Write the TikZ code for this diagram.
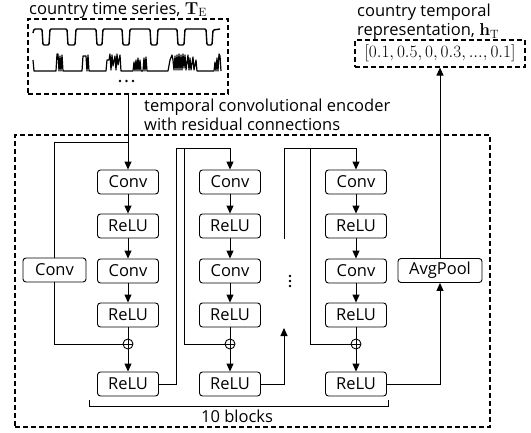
\documentclass[tikz,border=0pt]{standalone}
\usepackage[no-math]{fontspec}
\setmainfont{Open Sans}
\usetikzlibrary{arrows.meta}
\begin{document}
\begin{tikzpicture}[x=1pt,y=-1pt,
  every node/.style={font=\fontsize{16.5}{19}\selectfont},
  blk/.style={draw, rounded corners=3pt, minimum width=61pt, minimum height=24pt, inner sep=0pt, line width=0.9pt},
  conn/.style={line width=0.9pt},
  arr/.style={conn, -{Triangle[length=8pt,width=7pt]}},
  dbox/.style={draw, dash pattern=on 5pt off 3pt, line width=1.1pt, inner sep=0pt},
  wave/.style={line width=1.4pt, line join=round},
  sum/.style={circle, draw, fill=white, minimum size=10pt, inner sep=0pt, line width=0.9pt,
    path picture={\draw[line width=0.9pt] (path picture bounding box.north) -- (path picture bounding box.south) (path picture bounding box.west) -- (path picture bounding box.east);}},
  lbl/.style={inner sep=0pt, align=left}
]
\useasboundingbox (0,0) rectangle (531,432);

% labels
\node[lbl, anchor=base west] (tsl) at (29,14) {country time series, $\mathbf{T}_{\mathrm{E}}$};
\node[lbl, anchor=north west] (encl) at (144,98.5) {temporal convolutional encoder\\with residual connections};
\node[lbl, anchor=north west] (outl) at (357,4) {country temporal\\representation, $\mathbf{h}_{\mathrm{T}}$};

% time series box
\node[dbox, minimum width=200pt, minimum height=75pt] (ts) at (128,56.5) {};
\draw[wave, rounded corners=1.2pt] (33,33) -- (34,29) -- (42,29) -- (43,45) -- (49,45) -- (50,29) -- (67,29) -- (68,45) -- (75,45) -- (76,29) -- (96,29) -- (97,45) -- (102,45) -- (103,29) -- (122,29) -- (123,45) -- (129,45) -- (130,29) -- (150,29) -- (151,45) -- (157,45) -- (158,29) -- (177,29) -- (178,45) -- (184,45) -- (185,29) -- (206,29) -- (207,45) -- (212,45) -- (213,30) -- (220,29);
\draw[wave, line width=1.2pt] (33,60) -- (34,71) -- (56,71) -- (57,54) -- (58,54) -- (59,71) -- (60,56) -- (61,71) -- (62,55) -- (63,71) -- (82,71) -- (83,56) -- (86,56) -- (87,71) -- (88,55) -- (89,71) -- (106,71) -- (107,60) -- (109,60) -- (110,54) -- (111,70) -- (112,55) -- (113,66) -- (115,56) -- (116,70) -- (117,54) -- (118,65) -- (120,55) -- (121,71) -- (133,71) -- (134,62) -- (135,71) -- (136,60) -- (137,71) -- (138,58) -- (139,71) -- (140,60) -- (141,71) -- (143,71) -- (144,58) -- (145,71) -- (146,57) -- (147,71) -- (168,71) -- (170,60) -- (172,55) -- (173,60) -- (174,70) -- (175,56) -- (176,70) -- (177,55) -- (178,70) -- (179,54) -- (180,70) -- (181,55) -- (182,70) -- (183,54) -- (184,68) -- (185,55) -- (186,70) -- (188,55) -- (189,70) -- (190,58) -- (191,70) -- (193,57) -- (194,70) -- (196,60) -- (197,71) -- (214,71) -- (215,62) -- (216,71) -- (217,58) -- (218,71) -- (219,54) -- (220,56) -- (221,71);
\foreach \x in {120,126.5,133} \fill (\x,81) circle (1.4pt);

% output box
\node[dbox, minimum width=170pt, minimum height=27pt, font=\fontsize{16.5}{18}\selectfont] (out) at (440,53.5) {$[0.1, 0.5, 0, 0.3, ..., 0.1]$};

% encoder box
\node[dbox, minimum width=475pt, minimum height=292pt] (enc) at (252.5,281) {};

% blocks
\foreach \i/\x in {1/128,2/230,3/356}{
  \node[blk] (c\i a) at (\x,182) {Conv};
  \node[blk] (r\i a) at (\x,226) {ReLU};
  \node[blk] (c\i b) at (\x,271) {Conv};
  \node[blk] (r\i b) at (\x,315) {ReLU};
  \node[sum] (s\i) at (\x,344) {};
  \node[blk] (r\i c) at (\x,384) {ReLU};
  \draw[arr] (c\i a) -- (r\i a);
  \draw[arr] (r\i a) -- (c\i b);
  \draw[arr] (c\i b) -- (r\i b);
  \draw[conn] (r\i b) -- (s\i);
  \draw[arr] (s\i) -- (r\i c);
}
\node[blk, minimum width=63pt] (cl) at (54.5,270) {Conv};
\node[blk, minimum width=84pt] (ap) at (440,270.5) {AvgPool};

% block 1 connections
\coordinate (t1) at (128,142);
\draw[arr] (ts.south) -- (c1a.north);
\draw[conn] (t1) -| (cl.north);
\draw[conn] (cl.south) |- (s1.west);

% block 2
\coordinate (t2) at (176,148);
\coordinate (b2) at (184,148);
\draw[conn] (r1c.east) -| (t2);
\draw[arr] (t2) -| (c2a.north);
\draw[conn] (b2) |- (s2.west);
\coordinate (up2) at (284,328);
\draw[arr] (r2c.east) -| (up2);

% dots
\foreach \y in {276,281,286} \fill (290,\y) circle (1.4pt);

% block 3
\coordinate (t3b) at (284,239);
\coordinate (t3) at (284,148);
\coordinate (b3) at (310,148);
\draw[conn] (t3b) -- (t3);
\draw[arr] (t3) -| (c3a.north);
\draw[conn] (b3) |- (s3.west);
\draw[arr] (r3c.east) -| (ap.south);
\draw[arr] (ap.north) -- (out.south);

% brace
\coordinate (bl) at (89,400);
\coordinate (br) at (388,400);
\draw[conn] (bl) |- (388,406) -- (br);
\node (nb) at (237,416) {10 blocks};
\end{tikzpicture}
\end{document}
